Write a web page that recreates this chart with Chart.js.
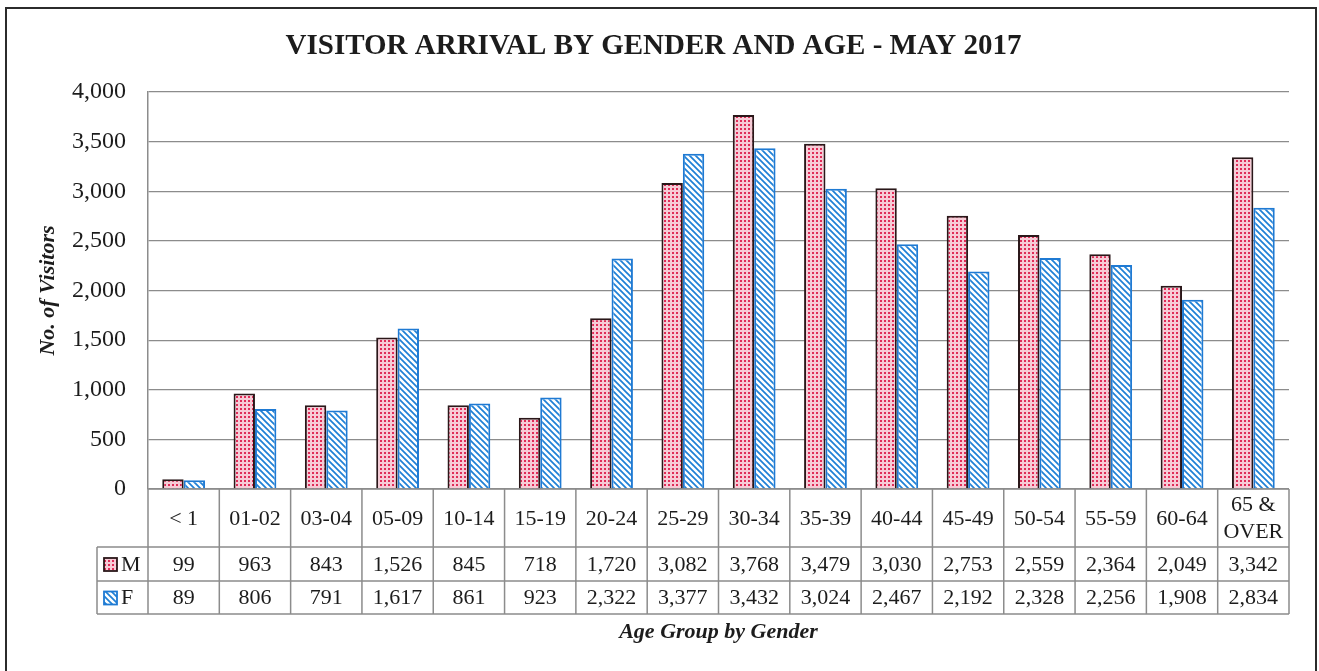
<!DOCTYPE html>
<html>
<head>
<meta charset="utf-8">
<script src="https://cdn.jsdelivr.net/npm/chart.js@4.4.0/dist/chart.umd.min.js"></script>
<style>
  html, body { margin: 0; padding: 0; background: #fff; }
</style>
</head>
<body>
<canvas id="chart" width="1319" height="671"></canvas>
<script>
const ageGroups = ['< 1', '01-02', '03-04', '05-09', '10-14', '15-19', '20-24', '25-29',
  '30-34', '35-39', '40-44', '45-49', '50-54', '55-59', '60-64', ['65 &', 'OVER']];
const maleVisitors = [99, 963, 843, 1526, 845, 718, 1720, 3082, 3768, 3479, 3030, 2753, 2559, 2364, 2049, 3342];
const femaleVisitors = [89, 806, 791, 1617, 861, 923, 2322, 3377, 3432, 3024, 2467, 2192, 2328, 2256, 1908, 2834];
const seriesNames = ['M', 'F'];
const yMax = 4000;
const yStep = 500;

const SERIF = '"Liberation Serif", "Times New Roman", serif';
const TEXT = '#1c1c1c';
const GRID = '#8c8c8c';

const canvas = document.getElementById('chart');
const ctx = canvas.getContext('2d');

// pink dotted fill for M
function dotPattern() {
  const c = document.createElement('canvas');
  c.width = 4; c.height = 4;
  const g = c.getContext('2d');
  g.fillStyle = '#f7cbd6';
  g.fillRect(0, 0, 4, 4);
  g.fillStyle = '#df2c58';
  g.fillRect(0, 0, 2, 2);
  return ctx.createPattern(c, 'repeat');
}

// blue "\" stripes for F
function stripePattern() {
  const c = document.createElement('canvas');
  c.width = 6; c.height = 6;
  const g = c.getContext('2d');
  g.fillStyle = '#ffffff';
  g.fillRect(0, 0, 6, 6);
  g.strokeStyle = '#1f80d6';
  g.lineWidth = 1.7;
  g.beginPath();
  g.moveTo(-1, -1); g.lineTo(7, 7);
  g.moveTo(-1, 5); g.lineTo(1, 7);
  g.moveTo(5, -1); g.lineTo(7, 1);
  g.stroke();
  return ctx.createPattern(c, 'repeat');
}

const maleFill = dotPattern();
const femaleFill = stripePattern();
const maleBorder = '#2a1719';
const femaleBorder = '#1f7ad3';

const fmt = v => v.toLocaleString('en-US');

// outer frame
const framePlugin = {
  id: 'frame',
  afterDraw(chart) {
    const c = chart.ctx;
    c.save();
    c.strokeStyle = '#2b2b2b';
    c.lineWidth = 2;
    c.beginPath();
    c.moveTo(6, 700);
    c.lineTo(6, 8);
    c.lineTo(1316, 8);
    c.lineTo(1316, 700);
    c.stroke();
    c.restore();
  }
};

// data table under the x axis
const tablePlugin = {
  id: 'dataTable',
  afterDraw(chart) {
    const c = chart.ctx;
    const area = chart.chartArea;
    const x = chart.scales.x;
    const n = ageGroups.length;
    const cw = (area.right - area.left) / n;
    const top = area.bottom;
    const rowH = [58, 34, 33];
    const y1 = top + rowH[0];
    const y2 = y1 + rowH[1];
    const y3 = y2 + rowH[2];
    const legLeft = 97;

    c.save();
    c.strokeStyle = GRID;
    c.lineWidth = 1.5;
    c.beginPath();
    c.moveTo(area.left, top); c.lineTo(area.right, top);
    c.moveTo(legLeft, y1); c.lineTo(area.right, y1);
    c.moveTo(legLeft, y2); c.lineTo(area.right, y2);
    c.moveTo(legLeft, y3); c.lineTo(area.right, y3);
    c.moveTo(legLeft, y1); c.lineTo(legLeft, y3);
    for (let i = 0; i <= n; i++) {
      const xx = i < n ? x.getPixelForValue(i) - cw / 2 : area.right;
      c.moveTo(xx, top); c.lineTo(xx, y3);
    }
    c.stroke();

    c.fillStyle = TEXT;
    c.font = '22px ' + SERIF;
    c.textAlign = 'center';
    c.textBaseline = 'middle';
    ageGroups.forEach((lab, i) => {
      const cx = x.getPixelForValue(i);
      if (Array.isArray(lab)) {
        c.fillText(lab[0], cx, top + rowH[0] / 2 - 13);
        c.fillText(lab[1], cx, top + rowH[0] / 2 + 14);
      } else {
        c.fillText(lab, cx, top + rowH[0] / 2 + 1);
      }
      c.fillText(fmt(maleVisitors[i]), cx, y1 + rowH[1] / 2 + 1);
      c.fillText(fmt(femaleVisitors[i]), cx, y2 + rowH[2] / 2 + 1);
    });

    // legend keys
    const keys = [
      { name: seriesNames[0], fill: maleFill, border: maleBorder, y: y1 + rowH[1] / 2 },
      { name: seriesNames[1], fill: femaleFill, border: femaleBorder, y: y2 + rowH[2] / 2 }
    ];
    keys.forEach(k => {
      c.fillStyle = k.fill;
      c.fillRect(104, k.y - 6, 13, 13);
      c.strokeStyle = k.border;
      c.lineWidth = 1.8;
      c.strokeRect(104, k.y - 6, 13, 13);
      c.fillStyle = TEXT;
      c.textAlign = 'left';
      c.fillText(k.name, 121, k.y + 1);
    });
    c.restore();
  }
};

new Chart(canvas, {
  type: 'bar',
  data: {
    labels: ageGroups,
    datasets: [
      {
        label: seriesNames[0],
        data: maleVisitors,
        backgroundColor: maleFill,
        borderColor: maleBorder,
        borderWidth: 2
      },
      {
        label: seriesNames[1],
        data: femaleVisitors,
        backgroundColor: femaleFill,
        borderColor: femaleBorder,
        borderWidth: 2
      }
    ]
  },
  options: {
    responsive: false,
    animation: false,
    events: [],
    datasets: {
      bar: { categoryPercentage: 0.6, barPercentage: 1.0 }
    },
    layout: {
      padding: { left: 18, right: 30, top: 7, bottom: 22 }
    },
    plugins: {
      legend: { display: false },
      tooltip: { enabled: false },
      title: {
        display: true,
        text: 'VISITOR ARRIVAL BY GENDER AND AGE - MAY 2017',
        color: TEXT,
        font: { family: SERIF, size: 29, weight: 'bold' },
        padding: { top: 22.6, bottom: 27.6 }
      }
    },
    scales: {
      x: {
        grid: { display: false },
        border: { display: false },
        ticks: { display: false },
        title: {
          display: true,
          text: 'Age Group by Gender',
          color: TEXT,
          font: { family: SERIF, size: 22, weight: 'bold', style: 'italic' },
          padding: { top: 0, bottom: 3 }
        },
        afterFit(scale) { scale.height = 160; }
      },
      y: {
        min: 0,
        max: yMax,
        ticks: {
          stepSize: yStep,
          padding: 22,
          color: TEXT,
          font: { family: SERIF, size: 24 },
          callback: v => fmt(v)
        },
        grid: { color: GRID, lineWidth: 1.2, drawTicks: false },
        border: { color: GRID, width: 1.5 },
        title: {
          display: true,
          text: 'No. of Visitors',
          color: TEXT,
          font: { family: SERIF, size: 22, weight: 'bold', style: 'italic' },
          padding: { top: 17, bottom: 0 }
        },
        afterFit(scale) { scale.width = 130; }
      }
    }
  },
  plugins: [tablePlugin, framePlugin]
});
</script>
</body>
</html>
